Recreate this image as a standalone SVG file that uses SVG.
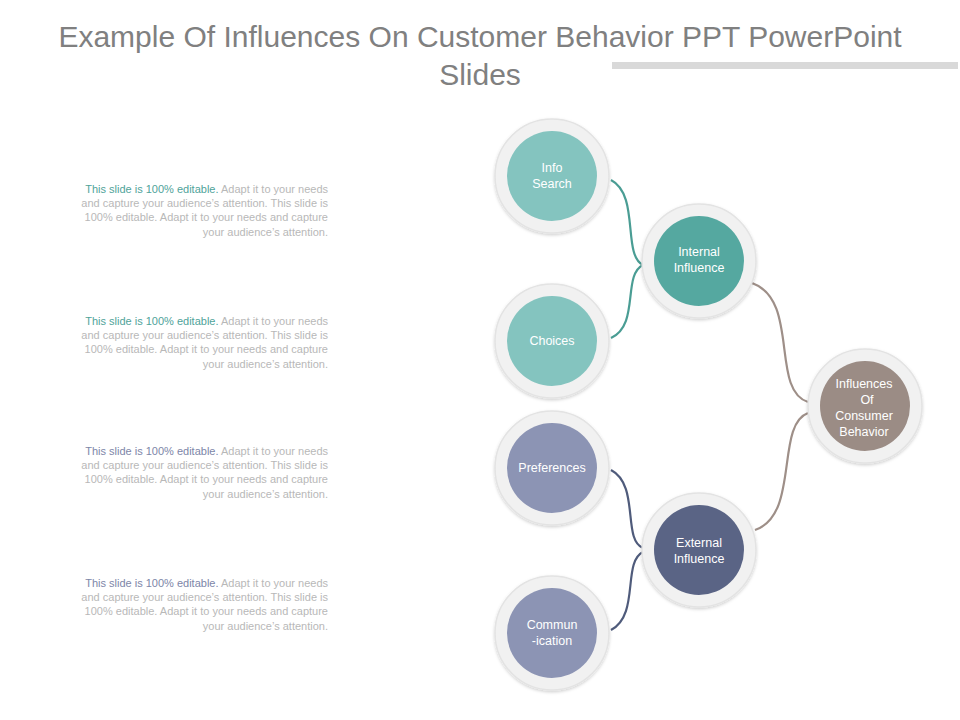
<svg xmlns="http://www.w3.org/2000/svg" width="960" height="720" viewBox="0 0 960 720">
<style>
.title{font-family:"Liberation Sans",Arial,sans-serif;font-size:30px;fill:#808080;text-anchor:middle}
.body{font-family:"Liberation Sans",Arial,sans-serif;font-size:11px;fill:#b8b8b8;text-anchor:end}
.hl{fill:#4fa39a}
.hl2{fill:#7d86a8}
.lbl{font-family:"Liberation Sans",Arial,sans-serif;font-size:12.5px;fill:#ffffff;text-anchor:middle}
.ring{fill:#f1f1f1;stroke:#e3e3e3;stroke-width:1.5}
.c{fill:none;stroke-width:2.2}
</style>
<defs>
<filter id="sh" x="-20%" y="-20%" width="140%" height="140%"><feDropShadow dx="0" dy="1.5" stdDeviation="1.5" flood-color="#000" flood-opacity="0.18"/></filter>
</defs>
<rect width="960" height="720" fill="#fff"/>
<text class="title" x="480" y="47">Example Of Influences On Customer Behavior PPT PowerPoint</text>
<text class="title" x="480" y="85">Slides</text>
<rect x="612" y="62" width="346" height="7" fill="#d9d9d9"/>
<g id="texts">
<text class="body" x="328" y="193"><tspan class="hl">This slide is 100% editable.</tspan> Adapt it to your needs</text>
<text class="body" x="328" y="207">and capture your audience’s attention. This slide is</text>
<text class="body" x="328" y="221">100% editable. Adapt it to your needs and capture</text>
<text class="body" x="328" y="236">your audience’s attention.</text>
<text class="body" x="328" y="325"><tspan class="hl">This slide is 100% editable.</tspan> Adapt it to your needs</text>
<text class="body" x="328" y="339">and capture your audience’s attention. This slide is</text>
<text class="body" x="328" y="353">100% editable. Adapt it to your needs and capture</text>
<text class="body" x="328" y="368">your audience’s attention.</text>
<text class="body" x="328" y="455"><tspan class="hl2">This slide is 100% editable.</tspan> Adapt it to your needs</text>
<text class="body" x="328" y="469">and capture your audience’s attention. This slide is</text>
<text class="body" x="328" y="483">100% editable. Adapt it to your needs and capture</text>
<text class="body" x="328" y="498">your audience’s attention.</text>
<text class="body" x="328" y="587"><tspan class="hl2">This slide is 100% editable.</tspan> Adapt it to your needs</text>
<text class="body" x="328" y="601">and capture your audience’s attention. This slide is</text>
<text class="body" x="328" y="615">100% editable. Adapt it to your needs and capture</text>
<text class="body" x="328" y="630">your audience’s attention.</text>
</g>
<g id="connectors">
<path class="c" stroke="#4a9d94" d="M611,180 C640,195 622,255 643,265"/>
<path class="c" stroke="#4a9d94" d="M611,338 C640,325 622,275 643,265"/>
<path class="c" stroke="#9e8f88" d="M752,283 C800,300 770,390 808,402"/>
<path class="c" stroke="#9e8f88" d="M755,530 C800,515 775,425 808,413"/>
<path class="c" stroke="#4f5b7b" d="M611,470 C640,485 622,540 643,548"/>
<path class="c" stroke="#4f5b7b" d="M611,630 C640,615 622,562 643,552"/>
</g>
<g id="info-search"><circle class="ring" filter="url(#sh)" cx="552" cy="176" r="57"/><circle cx="552" cy="176" r="45" fill="#84c4bf"/><text class="lbl" x="552" y="172">Info</text><text class="lbl" x="552" y="188">Search</text></g>
<g id="choices"><circle class="ring" filter="url(#sh)" cx="552" cy="341" r="57"/><circle cx="552" cy="341" r="45" fill="#84c4bf"/><text class="lbl" x="552" y="345">Choices</text></g>
<g id="preferences"><circle class="ring" filter="url(#sh)" cx="552" cy="468" r="57"/><circle cx="552" cy="468" r="45" fill="#8c94b4"/><text class="lbl" x="552" y="472">Preferences</text></g>
<g id="communication"><circle class="ring" filter="url(#sh)" cx="552" cy="633" r="57"/><circle cx="552" cy="633" r="45" fill="#8c94b4"/><text class="lbl" x="552" y="629">Commun</text><text class="lbl" x="552" y="645">-ication</text></g>
<g id="internal-influence"><circle class="ring" filter="url(#sh)" cx="699" cy="261" r="57"/><circle cx="699" cy="261" r="45" fill="#55a8a0"/><text class="lbl" x="699" y="256">Internal</text><text class="lbl" x="699" y="272">Influence</text></g>
<g id="external-influence"><circle class="ring" filter="url(#sh)" cx="699" cy="550" r="57"/><circle cx="699" cy="550" r="45" fill="#5a6485"/><text class="lbl" x="699" y="547">External</text><text class="lbl" x="699" y="563">Influence</text></g>
<g id="influences"><circle class="ring" filter="url(#sh)" cx="865" cy="406" r="57"/><circle cx="865" cy="406" r="45" fill="#9b8c85"/><text class="lbl" x="864" y="388">Influences</text><text class="lbl" x="867" y="404">Of</text><text class="lbl" x="864" y="420">Consumer</text><text class="lbl" x="864" y="436">Behavior</text></g>
</svg>
